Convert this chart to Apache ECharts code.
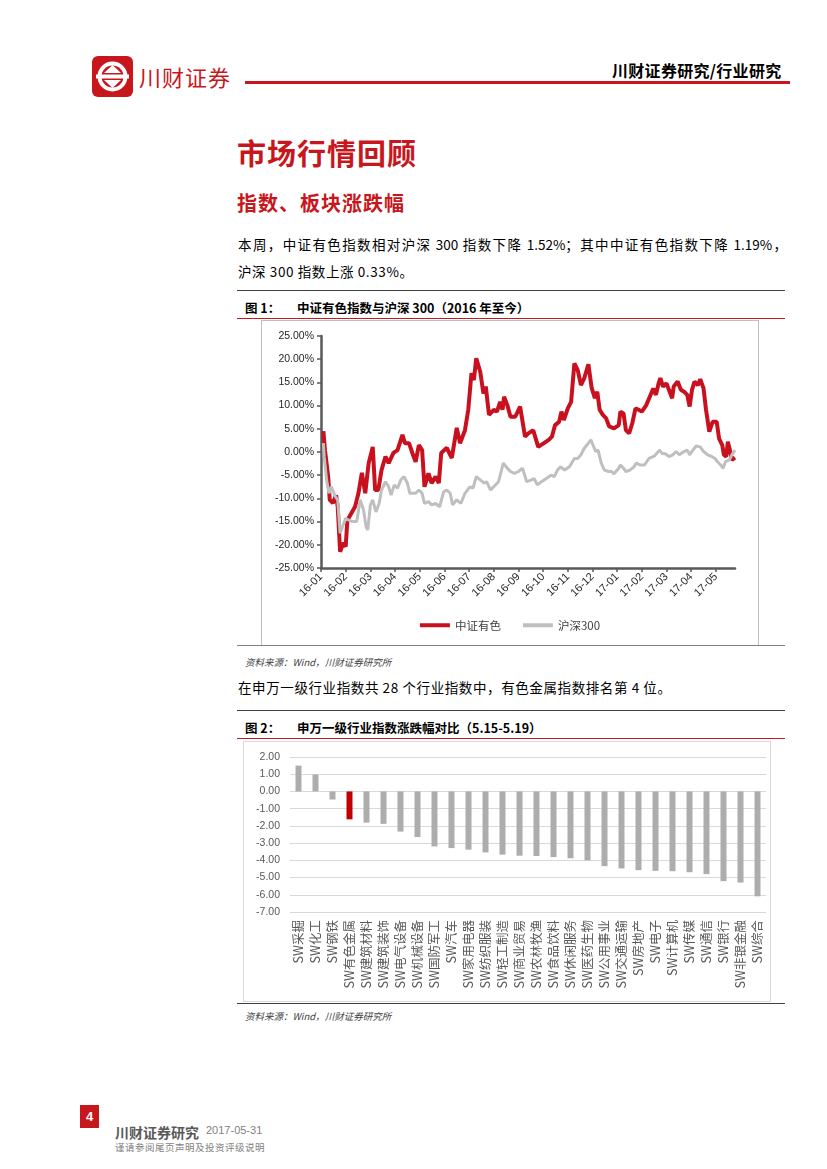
<!DOCTYPE html>
<html><head><meta charset="utf-8">
<script src="https://cdn.jsdelivr.net/npm/echarts@6/dist/echarts.min.js"></script>
<style>
html,body{margin:0;padding:0;background:#fff;}
body{width:827px;height:1169px;position:relative;overflow:hidden;font-family:"Noto Sans CJK SC","Noto Sans",sans-serif;color:#000;}
.a{position:absolute;white-space:nowrap;}
.rule{position:absolute;height:0;}
</style></head><body>
<!-- header -->
<svg class="a" style="left:92px;top:56px" width="41" height="41" viewBox="0 0 41 41">
<rect x="0" y="0" width="41" height="41" rx="6" fill="#C8161D"/>
<circle cx="20.5" cy="20.5" r="15" fill="#fff"/>
<circle cx="20.5" cy="20.5" r="11" fill="#C8161D"/>
<rect x="4" y="18.5" width="33" height="4" fill="#fff"/>
<polygon points="12,17 29,17 20.5,9" fill="#fff"/>
<polygon points="12,24 29,24 20.5,32" fill="#fff"/>
</svg>
<div class="a" style="left:139px;top:60px;font-size:22px;color:#C8161D;letter-spacing:1px;">川财证券</div>
<div class="rule" style="left:245px;top:81px;width:545px;border-top:3px solid #C8161D;"></div>
<div class="a" style="left:612px;top:58px;font-size:16px;font-weight:bold;letter-spacing:0.3px;">川财证券研究/行业研究</div>

<div class="a" style="left:237px;top:131px;font-size:29px;font-weight:bold;color:#C8161D;letter-spacing:1px;">市场行情回顾</div>
<div class="a" style="left:237px;top:188px;font-size:20px;font-weight:bold;color:#C8161D;letter-spacing:1px;">指数、板块涨跌幅</div>
<div class="a" style="left:238px;top:234px;width:549px;font-size:13.5px;text-align:justify;text-align-last:justify;">本周，中证有色指数相对沪深 300 指数下降 1.52%；其中中证有色指数下降 1.19%，</div>
<div class="a" style="left:238px;top:261px;font-size:13.5px;letter-spacing:0.6px;">沪深 300 指数上涨 0.33%。</div>

<!-- figure 1 -->
<div class="rule" style="left:237px;top:290px;width:548px;border-top:1.5px solid #404040;"></div>
<div class="a" style="left:245px;top:298px;font-size:12.5px;font-weight:bold;">图 1：</div>
<div class="a" style="left:297px;top:298px;font-size:12.5px;font-weight:bold;">中证有色指数与沪深 300（2016 年至今）</div>
<div class="rule" style="left:237px;top:318px;width:548px;border-top:1px solid #C8161D;"></div>
<div class="a" style="left:261px;top:320px;width:496px;height:324px;border:1px solid #BFBFBF;"></div>
<div id="c1" class="a" style="left:262px;top:321px;width:496px;height:324px;"></div>
<div class="rule" style="left:237px;top:645px;width:548px;border-top:1px solid #808080;"></div>
<div class="a" style="left:245px;top:655px;font-size:9.5px;font-style:italic;color:#404040;">资料来源：Wind，川财证券研究所</div>

<div class="a" style="left:238px;top:677px;font-size:13.5px;letter-spacing:0.6px;">在申万一级行业指数共 28 个行业指数中，有色金属指数排名第 4 位。</div>

<!-- figure 2 -->
<div class="rule" style="left:237px;top:710px;width:548px;border-top:1.5px solid #404040;"></div>
<div class="a" style="left:245px;top:718px;font-size:12.5px;font-weight:bold;">图 2：</div>
<div class="a" style="left:297px;top:718px;font-size:12.5px;font-weight:bold;">申万一级行业指数涨跌幅对比（5.15-5.19）</div>
<div class="rule" style="left:237px;top:738px;width:548px;border-top:1px solid #C8161D;"></div>
<div class="a" style="left:243px;top:741px;width:526px;height:259px;border:1px solid #D9D9D9;"></div>
<div id="c2" class="a" style="left:244px;top:742px;width:526px;height:259px;"></div>
<div class="rule" style="left:237px;top:1003px;width:548px;border-top:1.5px solid #404040;"></div>
<div class="a" style="left:245px;top:1009px;font-size:9.5px;font-style:italic;color:#404040;">资料来源：Wind，川财证券研究所</div>

<!-- footer -->
<div class="a" style="left:80px;top:1105px;width:19px;height:23px;background:#C8161D;color:#fff;font-weight:bold;font-size:13px;text-align:center;line-height:23px;font-family:'Liberation Sans',Arial,sans-serif;">4</div>
<div class="a" style="left:115px;top:1122px;font-size:14px;font-weight:bold;color:#595959;">川财证券研究</div>
<div class="a" style="left:206px;top:1124px;font-size:11px;color:#7F7F7F;font-family:'Liberation Sans',Arial,sans-serif;">2017-05-31</div>
<div class="a" style="left:115px;top:1140px;font-size:9.5px;color:#7F7F7F;letter-spacing:0.5px;">谨请参阅尾页声明及投资评级说明</div>

<script>
// ---------- Figure 1 data ----------
const monthLabels = ['16-01','16-02','16-03','16-04','16-05','16-06','16-07','16-08','16-09','16-10','16-11','16-12','17-01','17-02','17-03','17-04','17-05'];
const csiDates = ['2016-01-04','2016-01-06','2016-01-10','2016-01-12','2016-01-16','2016-01-20','2016-01-22','2016-01-25','2016-01-29','2016-02-01','2016-02-03','2016-02-12','2016-02-16','2016-02-20','2016-02-24','2016-02-28','2016-03-04','2016-03-07','2016-03-11','2016-03-15','2016-03-20','2016-03-24','2016-03-30','2016-04-04','2016-04-10','2016-04-13','2016-04-18','2016-04-22','2016-04-26','2016-04-30','2016-05-04','2016-05-07','2016-05-12','2016-05-16','2016-05-21','2016-05-25','2016-05-28','2016-06-04','2016-06-08','2016-06-10','2016-06-16','2016-06-20','2016-06-26','2016-06-30','2016-07-04','2016-07-07','2016-07-10','2016-07-15','2016-07-19','2016-07-22','2016-07-26','2016-08-01','2016-08-05','2016-08-09','2016-08-12','2016-08-14','2016-08-18','2016-08-22','2016-08-28','2016-09-03','2016-09-09','2016-09-13','2016-09-19','2016-09-25','2016-10-02','2016-10-08','2016-10-12','2016-10-16','2016-10-21','2016-10-24','2016-10-27','2016-11-01','2016-11-05','2016-11-09','2016-11-13','2016-11-17','2016-11-21','2016-11-26','2016-11-30','2016-12-04','2016-12-07','2016-12-10','2016-12-14','2016-12-18','2016-12-22','2016-12-28','2017-01-03','2017-01-05','2017-01-09','2017-01-12','2017-01-16','2017-01-20','2017-01-24','2017-01-28','2017-02-01','2017-02-06','2017-02-10','2017-02-14','2017-02-17','2017-02-20','2017-02-22','2017-02-25','2017-03-01','2017-03-04','2017-03-08','2017-03-10','2017-03-15','2017-03-19','2017-03-23','2017-03-27','2017-03-30','2017-04-02','2017-04-05','2017-04-09','2017-04-12','2017-04-16','2017-04-19','2017-04-23','2017-04-27','2017-05-02','2017-05-05','2017-05-09','2017-05-11','2017-05-14','2017-05-16','2017-05-19','2017-05-21','2017-05-25'];
const csiValues = [4.5,0.4,-5.3,-10.3,-11.0,-9.3,-11.8,-21.5,-19.6,-20.4,-14.7,-11.8,-8.9,-4.5,-8.9,-2.4,1.1,-8.2,-8.2,-3.9,-1.0,-2.4,-0.2,0.4,3.7,1.9,1.9,-0.2,-2.1,1.5,0.4,-7.5,-4.6,-6.7,-5.3,-6.7,-0.2,0.9,-0.6,-1.3,5.2,1.9,4.7,9.1,17.0,15.5,20.2,17.3,12.6,14.1,8.0,9.1,8.7,10.8,9.1,11.9,10.1,7.6,7.6,9.8,3.3,4.0,4.7,1.1,1.9,2.6,3.3,5.8,6.5,8.7,6.9,9.4,10.8,19.1,17.7,14.4,15.9,18.9,13.8,11.6,13.0,9.1,8.0,7.3,5.5,5.1,5.8,8.7,8.3,4.7,4.0,6.2,9.4,9.1,8.7,10.1,11.9,13.7,12.3,14.8,15.9,14.1,14.8,13.4,11.6,14.1,15.2,13.4,13.0,12.3,9.8,13.4,15.2,14.4,15.7,13.7,9.1,4.4,6.5,6.5,2.9,1.5,-0.6,-1.0,2.2,0.1,-1.7,-1.2];
const hsDates = ['2016-01-04','2016-01-05','2016-01-08','2016-01-11','2016-01-14','2016-01-16','2016-01-19','2016-01-22','2016-01-25','2016-01-28','2016-02-01','2016-02-05','2016-02-09','2016-02-14','2016-02-18','2016-02-22','2016-02-25','2016-02-27','2016-03-01','2016-03-04','2016-03-08','2016-03-12','2016-03-15','2016-03-20','2016-03-24','2016-03-27','2016-03-31','2016-04-04','2016-04-08','2016-04-12','2016-04-16','2016-04-19','2016-04-26','2016-04-30','2016-05-04','2016-05-07','2016-05-12','2016-05-16','2016-05-21','2016-05-26','2016-05-31','2016-06-04','2016-06-08','2016-06-11','2016-06-16','2016-06-21','2016-06-26','2016-07-02','2016-07-06','2016-07-10','2016-07-15','2016-07-20','2016-07-23','2016-07-28','2016-08-03','2016-08-07','2016-08-13','2016-08-18','2016-08-22','2016-08-27','2016-09-01','2016-09-06','2016-09-11','2016-09-17','2016-09-20','2016-09-24','2016-09-29','2016-10-05','2016-10-11','2016-10-15','2016-10-19','2016-10-23','2016-10-28','2016-11-03','2016-11-09','2016-11-13','2016-11-17','2016-11-21','2016-11-26','2016-11-29','2016-12-01','2016-12-05','2016-12-08','2016-12-12','2016-12-16','2016-12-21','2016-12-25','2016-12-28','2017-01-03','2017-01-05','2017-01-09','2017-01-12','2017-01-17','2017-01-22','2017-01-25','2017-01-30','2017-02-04','2017-02-09','2017-02-15','2017-02-21','2017-02-24','2017-02-28','2017-03-04','2017-03-09','2017-03-13','2017-03-17','2017-03-23','2017-03-27','2017-03-30','2017-04-03','2017-04-07','2017-04-12','2017-04-16','2017-04-21','2017-04-25','2017-04-30','2017-05-03','2017-05-07','2017-05-10','2017-05-13','2017-05-18','2017-05-21','2017-05-25'];
const hsValues = [1.9,-1.0,-6.0,-8.9,-7.5,-7.1,-9.6,-10.3,-17.5,-16.1,-14.3,-14.7,-15.0,-15.0,-10.3,-12.5,-16.1,-16.8,-11.4,-10.3,-12.9,-11.1,-8.2,-6.4,-7.5,-9.3,-7.1,-7.8,-6.0,-5.3,-6.7,-8.9,-8.9,-8.2,-8.9,-11.1,-10.7,-11.4,-11.1,-11.8,-8.6,-8.2,-8.9,-11.4,-10.3,-11.1,-8.9,-7.5,-7.8,-5.3,-6.0,-6.7,-6.4,-8.2,-7.1,-6.4,-2.4,-3.5,-4.2,-4.6,-4.2,-3.5,-6.4,-6.0,-5.7,-7.1,-6.4,-5.7,-5.0,-5.3,-3.9,-3.2,-3.9,-3.2,-1.4,-1.4,-0.6,0.8,1.9,2.6,2.6,0.1,0.4,-2.4,-3.9,-4.2,-4.2,-4.7,-3.5,-2.8,-3.5,-4.2,-3.9,-3.2,-2.4,-2.8,-2.8,-1.4,-0.9,0.4,-0.3,-0.4,-1.0,-0.6,0.1,-0.6,0.1,0.4,-0.6,0.4,1.3,1.1,0.1,-0.6,-0.9,-1.4,-2.1,-2.8,-3.5,-2.1,-1.7,-0.6,0.4];
const yTicks1 = {min:-25, max:25, step:5};

// ---------- Figure 2 data ----------
const industries = ['SW采掘','SW化工','SW钢铁','SW有色金属','SW建筑材料','SW建筑装饰','SW电气设备','SW机械设备','SW国防军工','SW汽车','SW家用电器','SW纺织服装','SW轻工制造','SW商业贸易','SW农林牧渔','SW食品饮料','SW休闲服务','SW医药生物','SW公用事业','SW交通运输','SW房地产','SW电子','SW计算机','SW传媒','SW通信','SW银行','SW非银金融','SW综合'];
const changes = [1.50,0.98,-0.47,-1.62,-1.81,-1.88,-2.33,-2.65,-3.19,-3.29,-3.38,-3.54,-3.67,-3.73,-3.75,-3.81,-3.88,-4.00,-4.34,-4.47,-4.57,-4.61,-4.63,-4.69,-4.80,-5.21,-5.29,-6.09];
const highlight = 'SW有色金属';
const yTicks2 = {min:-7, max:2, step:1};

function monthIndex(s){
  const [y,m,d] = s.split('-').map(Number);
  const dim = new Date(y, m, 0).getDate();
  return (y-2016)*12 + (m-1) + (d-1)/dim;
}
const pair = (ds, vs) => ds.map((d,i)=>[monthIndex(d), vs[i]]);
const xMax = monthIndex(csiDates[csiDates.length-1]);

const latin = "'Liberation Sans', Arial, sans-serif";
const c1 = echarts.init(document.getElementById('c1'));
c1.setOption({
  animation:false,
  grid:{left:59, top:15, width:414, height:232, containLabel:false},
  legend:{bottom:9, left:'center', icon:'rect', itemWidth:30, itemHeight:4, itemGap:22,
    textStyle:{fontSize:11.5, color:'#404040', fontFamily:"'Noto Sans CJK SC', sans-serif"},
    data:['中证有色','沪深300']},
  xAxis:{type:'value', min:0, max:xMax, interval:1,
    axisLine:{onZero:false, lineStyle:{color:'#595959', width:2.5}},
    axisTick:{show:true, length:4, lineStyle:{color:'#595959', width:1.5}},
    splitLine:{show:false},
    axisLabel:{rotate:45, fontSize:11, color:'#262626', fontFamily:latin, margin:7, showMaxLabel:false,
      formatter:v => (Number.isInteger(v) && monthLabels[v]) ? monthLabels[v] : ''}},
  yAxis:{type:'value', min:yTicks1.min, max:yTicks1.max, interval:yTicks1.step,
    axisLine:{show:true, lineStyle:{color:'#595959', width:2.5}},
    axisTick:{show:true, length:4, lineStyle:{color:'#595959', width:1.5}},
    splitLine:{show:false},
    axisLabel:{fontSize:10.5, color:'#262626', fontFamily:latin, margin:7,
      formatter:v => v.toFixed(2)+'%'}},
  series:[
    {name:'中证有色', type:'line', data:pair(csiDates,csiValues), symbol:'none',
      lineStyle:{color:'#C8101E', width:4}, itemStyle:{color:'#C8101E'}},
    {name:'沪深300', type:'line', data:pair(hsDates,hsValues), symbol:'none',
      lineStyle:{color:'#BFBFBF', width:3}, itemStyle:{color:'#BFBFBF'}}
  ]
});

const c2 = echarts.init(document.getElementById('c2'));
c2.setOption({
  animation:false,
  grid:{left:46, top:15, width:476, height:155, containLabel:false},
  xAxis:{type:'category', data:industries,
    axisLine:{show:false, onZero:false}, axisTick:{show:false},
    axisLabel:{rotate:90, interval:0, fontSize:12.5, color:'#595959', margin:8,
      fontFamily:"'Noto Sans CJK SC', sans-serif"}},
  yAxis:{type:'value', min:yTicks2.min, max:yTicks2.max, interval:yTicks2.step,
    axisLine:{show:false}, axisTick:{show:false},
    splitLine:{lineStyle:{color:'#D9D9D9', width:1}},
    axisLabel:{fontSize:10.5, color:'#595959', fontFamily:latin, margin:10,
      formatter:v => v.toFixed(2)}},
  series:[{type:'bar', barWidth:6,
    data:changes.map((v,i)=>({value:v, itemStyle:{color: industries[i]===highlight ? '#C00000' : '#ADADAD'}}))}]
});
</script>
</body></html>
